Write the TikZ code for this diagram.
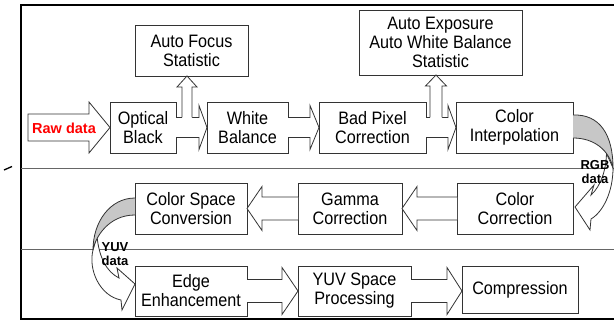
\documentclass[tikz,border=0pt]{standalone}
\usepackage{fontspec}
\setmainfont{Liberation Sans}
\newfontfamily\boxfont[FakeStretch=0.9]{Liberation Sans}
\usetikzlibrary{calc}

% block arrow pointing right: from node #1 to node #2,
% head length #3, half shaft width #4, half head width #5
\newcommand\rightblock[5]{%
  \draw[barrow] ($(#1.east)+(0,-#4)$) -- ($(#2.west|-#1.east)+(-#3,-#4)$)
    -- ($(#2.west|-#1.east)+(-#3,-#5)$) -- (#2.west|-#1.east)
    -- ($(#2.west|-#1.east)+(-#3,#5)$) -- ($(#2.west|-#1.east)+(-#3,#4)$)
    -- ($(#1.east)+(0,#4)$);}
% block arrow pointing left: from node #1 to node #2
\newcommand\leftblock[5]{%
  \draw[barrow] ($(#1.west)+(0,-#4)$) -- ($(#2.east|-#1.west)+(#3,-#4)$)
    -- ($(#2.east|-#1.west)+(#3,-#5)$) -- (#2.east|-#1.west)
    -- ($(#2.east|-#1.west)+(#3,#5)$) -- ($(#2.east|-#1.west)+(#3,#4)$)
    -- ($(#1.west)+(0,#4)$);}
% block arrow pointing up from a shaft base #1 to tip #2,
% half shaft width #3, half head width #4, head length #5
\newcommand\upblock[5]{%
  \fill[white] ($(#2|-#1)+(-#3,0.8)$) -- ($(#2)+(-#3,#5)$) -- ($(#2)+(-#4,#5)$)
    -- (#2) -- ($(#2)+(#4,#5)$) -- ($(#2)+(#3,#5)$) -- ($(#2|-#1)+(#3,0.8)$) -- cycle;
  \draw[barrow,fill=none] ($(#2|-#1)+(-#3,0)$) -- ($(#2)+(-#3,#5)$) -- ($(#2)+(-#4,#5)$)
    -- (#2) -- ($(#2)+(#4,#5)$) -- ($(#2)+(#3,#5)$) -- ($(#2|-#1)+(#3,0)$);}

\begin{document}
\begin{tikzpicture}[x=1pt,y=-1pt,
  box/.style={draw=black!80, line width=0.9pt, fill=white, inner sep=0pt,
    outer sep=0pt, align=center, font=\boxfont\fontsize{18}{19}\selectfont},
  barrow/.style={draw=black!80, line width=0.8pt, fill=white, line join=miter},
  ribbon/.style={draw=black!80, line width=0.8pt, fill=white},
  shade/.style={draw=black!80, line width=0.8pt, fill=black!22},
  tag/.style={font=\bfseries\fontsize{13}{14}\selectfont, align=center, inner sep=0pt},
  divider/.style={draw=black!60, line width=1pt},
]
\useasboundingbox (0,0) rectangle (614,321);
\clip (0,0) rectangle (614,321);

% outer frame and the three stage bands
\draw[line width=2pt] (640,5.5) -- (20.5,5.5) -- (20.5,318.5) -- (640,318.5);
\draw[divider] (20.5,168) -- (614,168);
\draw[divider] (20.5,249) -- (614,249);
\draw[line width=1.3pt] (4,170) -- (12,166.5);

% first row
\node[box, minimum width=66, minimum height=51] (ob) at (143,127.5) {Optical\\Black};
\node[box, minimum width=81, minimum height=51] (wb) at (247.5,127.5) {White\\Balance};
\node[box, minimum width=107, minimum height=51] (bp) at (372.5,127.5) {Bad Pixel\\Correction};
\node[box, minimum width=117, minimum height=51] (ci) at (514.5,127.5) {Color\\Interpolation};
\node[box, minimum width=113, minimum height=51] (af) at (191.5,50.5) {Auto Focus\\Statistic};
\node[box, minimum width=163, minimum height=65] (ae) at (440.5,42.5) {Auto Exposure\\Auto White Balance\\Statistic};

% second row
\node[box, minimum width=112, minimum height=51] (csc) at (191,208.5) {Color Space\\Conversion};
\node[box, minimum width=104, minimum height=51] (gc) at (350,208.5) {Gamma\\Correction};
\node[box, minimum width=116, minimum height=51] (cc) at (515,208.5) {Color\\Correction};

% third row
\node[box, minimum width=112, minimum height=50] (ee) at (191,291) {Edge\\Enhancement};
\node[box, minimum width=113, minimum height=50] (yuv) at (354.5,291) {YUV Space\\Processing};
\node[box, minimum width=116, minimum height=47] (cmp) at (520,290) {Compression};

% raw data input
\coordinate (rawin) at (28,127.5);
\draw[barrow] ($(rawin)+(0,-13.5)$) -- ($(ob.west)+(-21,-13.5)$) -- ($(ob.west)+(-21,-25.5)$)
  -- (ob.west) -- ($(ob.west)+(-21,25.5)$) -- ($(ob.west)+(-21,13.5)$)
  -- ($(rawin)+(0,13.5)$) -- cycle;
\node[font=\bfseries\fontsize{14.5}{16}\selectfont, text=red, inner sep=0pt] (raw) at (64,128.5) {Raw data};

% pipeline arrows
\rightblock{ob}{wb}{8}{10}{22}
\rightblock{wb}{bp}{9}{10}{22}
\rightblock{bp}{ci}{8}{10}{22}
\leftblock{cc}{gc}{15}{11.5}{22}
\leftblock{gc}{csc}{15}{11.5}{22}
\rightblock{ee}{yuv}{16}{11.5}{23.5}
\rightblock{yuv}{cmp}{15}{11.5}{23.5}

% statistics taps
\coordinate (afbase) at ($(ob.east)+(0,-10)$);
\coordinate (aftip) at ($(af.south)+(-4.5,0)$);
\upblock{afbase}{aftip}{5}{10}{11}
\coordinate (aebase) at ($(bp.east)+(0,-10)$);
\coordinate (aetip) at ($(ae.south)+(-4.5,0)$);
\upblock{aebase}{aetip}{6}{10.5}{11}

% RGB data turn
\coordinate (rgbA) at ($(ci.east)+(0,-12.5)$);
\coordinate (rgbB) at ($(ci.east)+(0,10.5)$);
\coordinate (rgbtip) at ($(cc.east)+(2,-1.5)$);
\draw[ribbon] (613,168) .. controls (613,192) and (603,212) .. (591,219) -- (590,230)
  -- (rgbtip) -- (594,185) -- (591,195) .. controls (601,186) and (606,170) .. (606.5,153.5) -- cycle;
\draw[shade] (rgbA) .. controls (600,114) and (613,135) .. (613,168)
  .. controls (609,150) and (594,138) .. (rgbB);
\node[tag] (rgb) at (595,172.5) {RGB\\data};

% YUV data turn
\coordinate (yuvA) at ($(csc.west)+(0,-10.5)$);
\coordinate (yuvB) at ($(csc.west)+(0,6.5)$);
\coordinate (yuvtip) at ($(ee.west)+(0,-7)$);
\draw[ribbon] (93,250) .. controls (88,270) and (100,296) .. (121,300) -- (122,310)
  -- (yuvtip) -- (117,268) -- (119,278) .. controls (107,272) and (99,258) .. (97,236) -- cycle;
\draw[shade] (yuvA) .. controls (110,198) and (93,222) .. (93,250)
  .. controls (95,238) and (108,215) .. (yuvB);
\node[tag] (yuvd) at (115,254.5) {YUV\\data};
\end{tikzpicture}
\end{document}
